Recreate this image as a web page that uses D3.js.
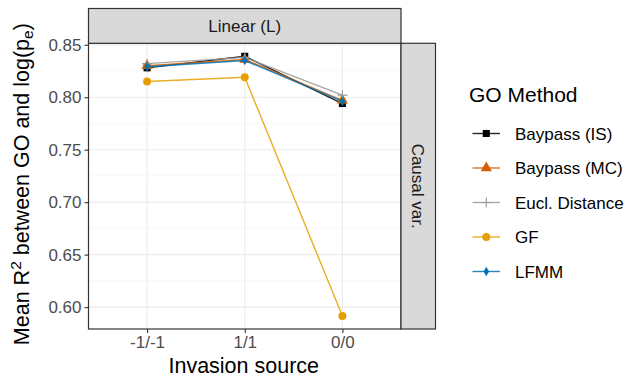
<!DOCTYPE html>
<html>
<head>
<meta charset="utf-8">
<script src="https://cdn.jsdelivr.net/npm/d3@7"></script>
<style>
  body { margin: 0; background: #fff; }
  svg { display: block; font-family: "Liberation Sans", Arial, sans-serif; }
</style>
</head>
<body>
<svg id="chart" width="629" height="379"></svg>
<script>
// data
const sources = ['-1/-1', '1/1', '0/0'];
const methods = ['Baypass (IS)', 'Baypass (MC)', 'Eucl. Distance', 'GF', 'LFMM'];
const colors = ['#000000', '#D55E00', '#999999', '#E69F00', '#0072B2'];
const shapes = ['square', 'triangle', 'plus', 'circle', 'diamond'];
const baypassIS = [0.828, 0.839, 0.794];
const baypassMC = [0.830, 0.836, 0.797];
const euclDist = [0.832, 0.838, 0.802];
const gf = [0.815, 0.819, 0.5915];
const lfmm = [0.829, 0.835, 0.796];
const yTicks = [0.60, 0.65, 0.70, 0.75, 0.80, 0.85];
const yMinor = [0.625, 0.675, 0.725, 0.775, 0.825];

const series = [baypassIS, baypassMC, euclDist, gf, lfmm];

const svg = d3.select('#chart');
const panel = { left: 88.5, right: 401, top: 43.3, bottom: 329 };

// y scale with ggplot-like 5% expansion
const all = series.flat();
const lo = d3.min(all), hi = d3.max(all);
const pad = (hi - lo) * 0.05;
const y = d3.scaleLinear().domain([lo - pad, hi + pad]).range([panel.bottom, panel.top]);
const x = d3.scalePoint().domain(sources).range([panel.left, panel.right]).padding(0.6);

// panel background + grid
svg.append('rect').attr('x', panel.left).attr('y', panel.top)
  .attr('width', panel.right - panel.left).attr('height', panel.bottom - panel.top)
  .attr('fill', '#fff');
svg.append('g').selectAll('line').data(yMinor).join('line')
  .attr('x1', panel.left).attr('x2', panel.right)
  .attr('y1', d => y(d)).attr('y2', d => y(d))
  .attr('stroke', '#f2f2f2').attr('stroke-width', 0.6);
svg.append('g').selectAll('line').data(yTicks).join('line')
  .attr('x1', panel.left).attr('x2', panel.right)
  .attr('y1', d => y(d)).attr('y2', d => y(d))
  .attr('stroke', '#ebebeb').attr('stroke-width', 1.1);
svg.append('g').selectAll('line').data(sources).join('line')
  .attr('x1', d => x(d)).attr('x2', d => x(d))
  .attr('y1', panel.top).attr('y2', panel.bottom)
  .attr('stroke', '#ebebeb').attr('stroke-width', 1.1);

// shapes
function shapePath(kind) {
  if (kind === 'square') return d3.symbol(d3.symbolSquare, 50)();
  if (kind === 'triangle') return d3.symbol(d3.symbolTriangle, 55)();
  if (kind === 'circle') return d3.symbol(d3.symbolCircle, 50)();
  if (kind === 'diamond') return d3.symbol(d3.symbolDiamond, 26)();
  return 'M-5,0H5M0,-5V5';
}
function drawPoint(g, kind, color, cx, cy) {
  const p = g.append('path').attr('d', shapePath(kind))
    .attr('transform', `translate(${cx},${cy})`);
  if (kind === 'plus') p.attr('fill', 'none').attr('stroke', color).attr('stroke-width', 1.1);
  else p.attr('fill', color);
}

// lines and points
const line = d3.line().x((d, i) => x(sources[i])).y(d => y(d));
series.forEach((vals, k) => {
  const g = svg.append('g');
  g.append('path').datum(vals).attr('d', line)
    .attr('fill', 'none').attr('stroke', colors[k]).attr('stroke-width', 1.4)
    .attr('stroke-opacity', 0.85);
  vals.forEach((v, i) => drawPoint(g, shapes[k], colors[k], x(sources[i]), y(v)));
});

// panel border
svg.append('rect').attr('x', panel.left).attr('y', panel.top)
  .attr('width', panel.right - panel.left).attr('height', panel.bottom - panel.top)
  .attr('fill', 'none').attr('stroke', '#333').attr('stroke-width', 1.2);

// axes
const yAxis = svg.append('g').attr('transform', `translate(${panel.left},0)`)
  .call(d3.axisLeft(y).tickValues(yTicks).tickFormat(d3.format('.2f')).tickSize(4).tickPadding(3));
const xAxis = svg.append('g').attr('transform', `translate(0,${panel.bottom})`)
  .call(d3.axisBottom(x).tickSize(4).tickPadding(3));
[yAxis, xAxis].forEach(a => {
  a.select('.domain').remove();
  a.selectAll('.tick line').attr('stroke', '#333').attr('stroke-width', 1.1);
  a.selectAll('.tick text').attr('fill', '#4d4d4d').style('font-size', '17px')
    .style('font-family', '"Liberation Sans", Arial, sans-serif');
});

// strips
svg.append('rect').attr('x', panel.left).attr('y', 8.5)
  .attr('width', panel.right - panel.left).attr('height', panel.top - 8.5)
  .attr('fill', '#d9d9d9').attr('stroke', '#333').attr('stroke-width', 1.2);
svg.append('text').attr('x', (panel.left + panel.right) / 2).attr('y', 32)
  .attr('text-anchor', 'middle').attr('fill', '#1a1a1a').style('font-size', '17px')
  .text('Linear (L)');
svg.append('rect').attr('x', panel.right).attr('y', panel.top)
  .attr('width', 435.5 - panel.right).attr('height', panel.bottom - panel.top)
  .attr('fill', '#d9d9d9').attr('stroke', '#333').attr('stroke-width', 1.2);
svg.append('text')
  .attr('transform', `translate(${(panel.right + 435.5) / 2 - 6},${(panel.top + panel.bottom) / 2}) rotate(90)`)
  .attr('text-anchor', 'middle').attr('fill', '#1a1a1a').style('font-size', '17px')
  .text('Causal var.');

// axis titles
svg.append('text').attr('x', (panel.left + panel.right) / 2 - 1).attr('y', 373)
  .attr('text-anchor', 'middle').style('font-size', '21.5px').text('Invasion source');
const yt = svg.append('text')
  .attr('transform', `translate(29,${(panel.top + panel.bottom) / 2 - 2}) rotate(-90)`)
  .attr('text-anchor', 'middle').style('font-size', '21.5px');
yt.append('tspan').text('Mean R');
yt.append('tspan').attr('dy', -8).style('font-size', '15.5px').text('2');
yt.append('tspan').attr('dy', 8).text(' between GO and log(p');
yt.append('tspan').attr('dy', 4).style('font-size', '15.5px').text('e');
yt.append('tspan').attr('dy', -4).text(')');

// legend
const legend = svg.append('g');
legend.append('text').attr('x', 469).attr('y', 102).style('font-size', '21px').text('GO Method');
const legY = [133.5, 168, 202.5, 237, 271.5];
methods.forEach((m, k) => {
  const g = legend.append('g');
  g.append('line').attr('x1', 472.5).attr('x2', 500).attr('y1', legY[k]).attr('y2', legY[k])
    .attr('stroke', colors[k]).attr('stroke-width', 1.4).attr('stroke-opacity', 0.85);
  drawPoint(g, shapes[k], colors[k], 486.3, legY[k]);
  g.append('text').attr('x', 515).attr('y', legY[k] + 6).style('font-size', '17px')
    .attr('fill', '#000').text(m);
});
</script>
</body>
</html>
